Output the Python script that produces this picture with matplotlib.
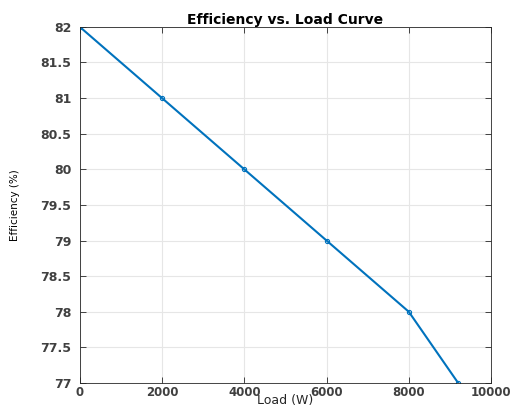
import matplotlib as mpl
import matplotlib.pyplot as plt

# data
load_w = [0, 2000, 4000, 6000, 8000, 9200]
efficiency = [82, 81, 80, 79, 78, 77]

x_ticks = [0, 2000, 4000, 6000, 8000, 10000]
y_ticks = [77, 77.5, 78, 78.5, 79, 79.5, 80, 80.5, 81, 81.5, 82]

mpl.rc('font', family='DejaVu Sans')

fig = plt.figure(figsize=(5.18, 4.07), dpi=100)
ax = fig.add_axes([0.154, 0.059, 0.794, 0.875])

ax.plot(load_w, efficiency, color='#0072BD', linewidth=1.5,
        marker='o', markersize=3, markerfacecolor='none', markeredgewidth=0.8)

ax.set_xlim(0, 10000)
ax.set_ylim(77, 82)
ax.set_xticks(x_ticks)
ax.set_yticks(y_ticks)
ax.set_xticklabels([str(v) for v in x_ticks])
ax.set_yticklabels(['%g' % v for v in y_ticks])

ax.grid(True, color='#e6e6e6', linewidth=0.8)
ax.set_axisbelow(True)
ax.tick_params(direction='in', top=True, right=True, length=4, width=0.6,
               labelsize=9, colors='#262626')
ax.tick_params(axis='x', pad=2, labelsize=8.5)
ax.tick_params(axis='y', pad=6)
for lab in ax.get_xticklabels() + ax.get_yticklabels():
    lab.set_fontweight('semibold')
    lab.set_color('#404040')
for s in ax.spines.values():
    s.set_color('#262626')
    s.set_linewidth(0.6)

ax.set_title('Efficiency vs. Load Curve', fontsize=10, fontweight='bold', pad=2)
ax.set_xlabel('Load (W)', fontsize=9, color='#262626')
ax.xaxis.set_label_coords(0.5, -0.05)
ax.xaxis.label.set_verticalalignment('center')
ax.set_ylabel('Efficiency (%)', fontsize=7.5)
ax.yaxis.set_label_coords(-0.145, 0.5)

fig.savefig('out.png', dpi=100, facecolor='white')
plt.close(fig)
